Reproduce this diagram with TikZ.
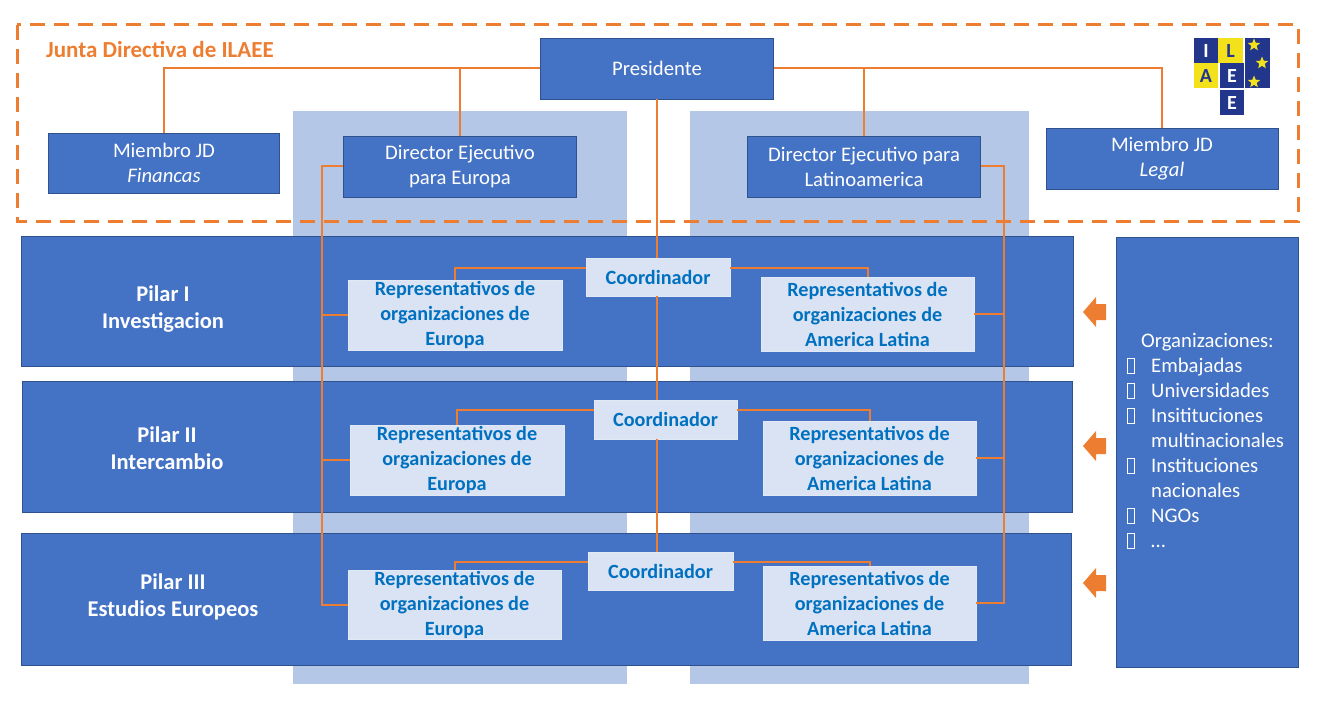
\documentclass[tikz,border=0pt]{standalone}
\usepackage{fontspec}
\setmainfont{Carlito}
\usetikzlibrary{shapes.geometric}
\definecolor{barblue}{HTML}{4472C4}
\definecolor{colblue}{HTML}{B4C7E7}
\definecolor{lightbox}{HTML}{DAE3F3}
\definecolor{reptext}{HTML}{0070C0}
\definecolor{orng}{HTML}{ED7D31}
\definecolor{darkedge}{HTML}{2F528F}
\definecolor{logonavy}{HTML}{22368C}
\definecolor{logoyel}{HTML}{F3E21B}
\newcommand\orgbul{\makebox[27pt][l]{\hspace{3pt}\raisebox{-1pt}{\fboxsep=0pt\fboxrule=0.9pt\fbox{\rule{0pt}{14pt}\hspace{6pt}}}}}
\begin{document}
\begin{tikzpicture}[x=1pt,y=-1pt,
  darkbox/.style={draw=darkedge, line width=0.8pt, fill=barblue, text=white, align=center, inner sep=0pt, font=\fontsize{20.7}{25}\selectfont},
  lightbx/.style={draw=white!60!colblue, line width=0.8pt, fill=lightbox, text=reptext, align=center, inner sep=0pt, font=\fontsize{20.2}{25}\selectfont\bfseries},
  barfill/.style={fill=barblue, draw=darkedge, line width=0.8pt},
  colfill/.style={fill=colblue},
  pilartext/.style={text=white, align=center, inner sep=0pt, font=\fontsize{22.5}{27}\selectfont\bfseries},
  conn/.style={draw=orng, line width=2pt},
  arrowfill/.style={fill=orng},
  logoletter/.style={inner sep=0pt, font=\fontsize{20}{20}\selectfont\bfseries},
  logostar/.style={star, star points=5, star point ratio=2.3, fill=logoyel, minimum size=13pt, inner sep=0pt}
]
\useasboundingbox (0,0) rectangle (1321,711);
% background columns
\path[colfill] (293,111) rectangle (627,684);
\path[colfill] (690,111) rectangle (1029,684);
% dashed board frame
\draw[orng, line width=3pt, dash pattern=on 15pt off 9pt] (17,25) rectangle (1298,222);
\node[anchor=west, text=orng, inner sep=0pt, font=\fontsize{23}{27}\selectfont\bfseries] (title) at (46,50) {Junta Directiva de ILAEE};
% pillar bars
\path[barfill] (21,236) rectangle (1073,366);
\path[barfill] (22,381) rectangle (1072,512);
\path[barfill] (21,533) rectangle (1071,665);
\path[barfill] (1116,237) rectangle (1298,667);
% logo
\fill[logonavy] (1194,38) rectangle (1218,63);
\fill[logoyel] (1218,38) rectangle (1243,63);
\fill[logonavy] (1245,38) rectangle (1270,88);
\fill[logoyel] (1194,63) rectangle (1218,88);
\fill[logonavy] (1220,63) rectangle (1244,88);
\fill[logonavy] (1220,90) rectangle (1244,115);
\node[logoletter, text=white] (lgI) at (1206,51) {I};
\node[logoletter, text=logonavy] (lgL) at (1230.5,51) {L};
\node[logoletter, text=logonavy] (lgA) at (1206,76) {A};
\node[logoletter, text=white] (lgE1) at (1232,76) {E};
\node[logoletter, text=white] (lgE2) at (1232,103) {E};
\node[logostar] (st1) at (1254,45) {};
\node[logostar] (st2) at (1262,63) {};
\node[logostar] (st3) at (1254,82) {};
% board nodes
\node[darkbox, minimum width=233pt, minimum height=61pt] (pres) at (657,68.5) {Presidente};
\node[darkbox, minimum width=231pt, minimum height=60pt] (fin) at (164,163) {Miembro JD\\\textit{Financas}};
\node[darkbox, minimum width=233pt, minimum height=61pt] (dirEu) at (460,166.5) {Director Ejecutivo\\para Europa};
\node[darkbox, minimum width=233pt, minimum height=61pt] (dirLa) at (864,166.5) {Director Ejecutivo para\\Latinoamerica};
\node[darkbox, minimum width=232pt, minimum height=61pt] (leg) at (1162,158.5) {Miembro JD\\\textit{Legal}};
% pillar labels
\node[pilartext] (p1) at (163,309.5) {Pilar I\\Investigacion};
\node[pilartext] (p2) at (167,448.5) {Pilar II\\Intercambio};
\node[pilartext] (p3) at (173,597) {Pilar III\\Estudios Europeos};
% coordinators
\node[lightbx, minimum width=144pt, minimum height=38pt] (c1) at (658,277) {Coordinador};
\node[lightbx, minimum width=143pt, minimum height=39pt] (c2) at (665.5,419.5) {Coordinador};
\node[lightbx, minimum width=145pt, minimum height=38pt] (c3) at (660.5,571) {Coordinador};
% representatives
\node[lightbx, minimum width=214pt, minimum height=70pt] (rE1) at (455,315) {Representativos de\\organizaciones de\\Europa};
\node[lightbx, minimum width=214pt, minimum height=70pt] (rE2) at (457,460) {Representativos de\\organizaciones de\\Europa};
\node[lightbx, minimum width=213pt, minimum height=69pt] (rE3) at (454.5,605) {Representativos de\\organizaciones de\\Europa};
\node[lightbx, minimum width=213pt, minimum height=74pt] (rA1) at (867.5,314) {Representativos de\\organizaciones de\\America Latina};
\node[lightbx, minimum width=213pt, minimum height=74pt] (rA2) at (869.5,458) {Representativos de\\organizaciones de\\America Latina};
\node[lightbx, minimum width=213pt, minimum height=74pt] (rA3) at (869.5,603) {Representativos de\\organizaciones de\\America Latina};
% organisations list
\node[anchor=west, text=white, align=left, inner sep=0pt, font=\fontsize{20.7}{25}\selectfont] (orgt) at (1124,441)
 {\hspace*{17pt}Organizaciones:\\
  \orgbul Embajadas\\
  \orgbul Universidades\\
  \orgbul Insitituciones\\
  \hspace*{27pt}multinacionales\\
  \orgbul Instituciones\\
  \hspace*{27pt}nacionales\\
  \orgbul NGOs\\
  \orgbul …};
% arrows
\fill[arrowfill] (1083,312) -- ++(13,-15) -- ++(0,7) -- ++(10,0) -- ++(0,16) -- ++(-10,0) -- ++(0,7) -- cycle;
\fill[arrowfill] (1083,446) -- ++(13,-15) -- ++(0,7) -- ++(10,0) -- ++(0,16) -- ++(-10,0) -- ++(0,7) -- cycle;
\fill[arrowfill] (1083,583) -- ++(13,-15) -- ++(0,7) -- ++(10,0) -- ++(0,16) -- ++(-10,0) -- ++(0,7) -- cycle;
% connectors
\draw[conn] (pres.west) -| (fin.north);
\draw[conn] (pres.west) -| (dirEu.north);
\draw[conn] (pres.east) -| (leg.north);
\draw[conn] (pres.east) -| (dirLa.north);
\draw[conn] (pres.south) -- (pres.south |- c1.north)
            (pres.south |- c1.south) -- (pres.south |- c2.north)
            (pres.south |- c2.south) -- (pres.south |- c3.north);
\foreach \i in {1,2,3} {
  \draw[conn] ([yshift=-10pt]c\i.north west) -| (rE\i.north);
  \draw[conn] ([yshift=-10pt]c\i.north east) -| (rA\i.north);
}
\coordinate (busL) at (322,166);
\coordinate (busR) at (1004,166);
\draw[conn] (dirEu.west) -| (busL |- rE3.west) -- (rE3.west);
\draw[conn] (busL |- rE1.west) -- (rE1.west);
\draw[conn] (busL |- rE2.west) -- (rE2.west);
\draw[conn] (dirLa.east) -| (busR |- rA3.east) -- (rA3.east);
\draw[conn] (busR |- rA1.east) -- (rA1.east);
\draw[conn] (busR |- rA2.east) -- (rA2.east);
\end{tikzpicture}
\end{document}
